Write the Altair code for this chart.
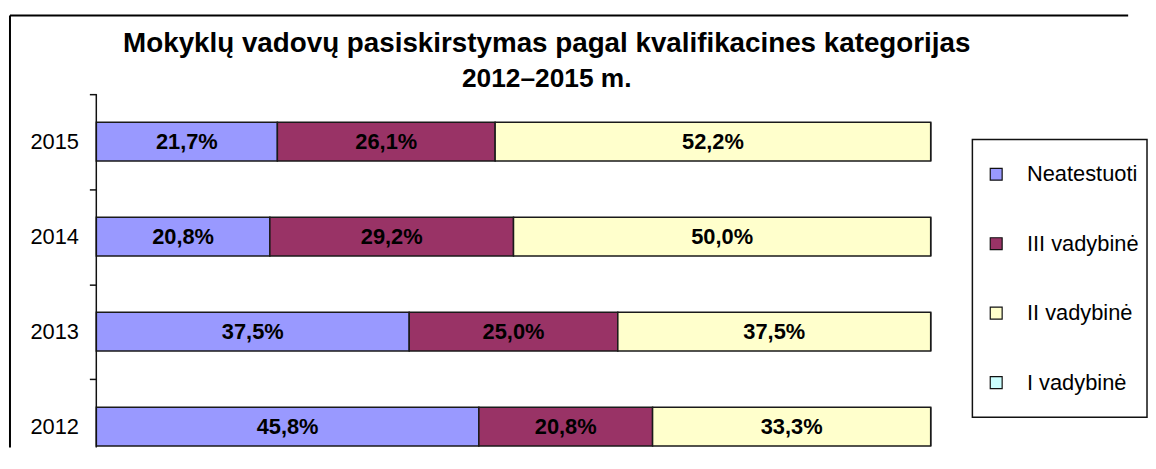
import altair as alt
import pandas as pd

years = ["2015", "2014", "2013", "2012"]
categories = ["Neatestuoti", "III vadybinė", "II vadybinė", "I vadybinė"]
neatestuoti = [21.7, 20.8, 37.5, 45.8]
iii_vadybine = [26.1, 29.2, 25.0, 20.8]
ii_vadybine = [52.2, 50.0, 37.5, 33.3]
i_vadybine = [0.0, 0.0, 0.0, 0.0]
colors = ["#9999FF", "#993366", "#FFFFCC", "#CCFFFF"]
title_line1 = "Mokyklų vadovų pasiskirstymas pagal kvalifikacines kategorijas"
title_line2 = "2012–2015 m."

FONT = "Liberation Sans"
STEP = 95.75
VIEW_H = 350

series = [neatestuoti, iii_vadybine, ii_vadybine, i_vadybine]
rows = []
for ci, (cat, vals) in enumerate(zip(categories, series)):
    for yr, v in zip(years, vals):
        rows.append({"year": yr, "cat": cat, "ord": ci, "v": v})
df = pd.DataFrame(rows)

base = alt.Chart(df).transform_stack(
    stack="v", groupby=["year"], offset="normalize",
    sort=[alt.SortField("ord")], as_=["x0", "x1"]
)

xscale = alt.Scale(domain=[0, 1], nice=False, zero=True)
yenc = alt.Y(
    "year:N", sort=years,
    scale=alt.Scale(paddingInner=0, paddingOuter=0, range=[0, STEP * len(years)]),
    axis=alt.Axis(title=None, domain=False,
                  tickColor="#111111", tickWidth=1.5, tickSize=7,
                  tickOffset=-STEP / 2, labelOffset=STEP / 2,
                  labelFont=FONT, labelFontSize=22, labelColor="black", labelPadding=11),
)

bars = base.mark_bar(
    stroke="#1a1a1a", strokeWidth=1.5, height=alt.RelativeBandSize(band=0.408)
).encode(
    x=alt.X("x0:Q", scale=xscale, axis=None),
    x2="x1:Q",
    y=yenc,
    color=alt.Color(
        "cat:N", sort=categories,
        scale=alt.Scale(domain=categories, range=colors),
        legend=alt.Legend(
            title=None, orient="none", legendX=883, legendY=45.7,
            strokeColor="#111111", padding=8, fillColor="white",
            symbolType="square", symbolSize=144, symbolStrokeColor="#111111",
            symbolStrokeWidth=1.2, symbolOffset=5,
            labelFont=FONT, labelFontSize=22, labelColor="black",
            labelOffset=20, clipHeight=54, rowPadding=16,
        ),
    ),
)

labels = base.transform_filter("datum.v > 0").transform_calculate(
    mid="(datum.x0 + datum.x1) / 2",
    lab="replace(format(datum.v, '.1f'), '.', ',') + '%'",
).mark_text(font=FONT, fontSize=22, fontWeight="bold", color="black").encode(
    x=alt.X("mid:Q", scale=xscale, axis=None),
    y=yenc,
    text="lab:N",
)

border_df = pd.DataFrame({"k": [0]})
axis_line = alt.Chart(border_df).mark_rule(color="#111111", strokeWidth=1.5).encode(
    x=alt.value(0), y=alt.value(0), y2=alt.value(VIEW_H + 6)
)
top_rule = alt.Chart(border_df).mark_rule(color="black", strokeWidth=2).encode(
    x=alt.value(-87), x2=alt.value(1040), y=alt.value(-79.3)
)
left_rule = alt.Chart(border_df).mark_rule(color="black", strokeWidth=2).encode(
    x=alt.value(-87), y=alt.value(-79.3), y2=alt.value(VIEW_H + 6)
)
title1 = alt.Chart(border_df).mark_text(
    font=FONT, fontSize=28, fontWeight="bold", color="black",
    align="center", baseline="alphabetic",
).encode(x=alt.value(454), y=alt.value(-42.3), text=alt.value(title_line1))
title2 = alt.Chart(border_df).mark_text(
    font=FONT, fontSize=26.5, fontWeight="bold", color="black",
    align="center", baseline="alphabetic",
).encode(x=alt.value(454), y=alt.value(-7.3), text=alt.value(title_line2))

chart = alt.layer(bars, labels, axis_line, top_rule, left_rule, title1, title2).properties(
    width=841, height=VIEW_H,
    padding={"left": 1, "top": 4, "right": 0, "bottom": 0},
).configure_view(stroke=None).configure_legend(strokeWidth=1.5)

chart.save("out.html", embed_options={"renderer": "svg", "actions": False})
